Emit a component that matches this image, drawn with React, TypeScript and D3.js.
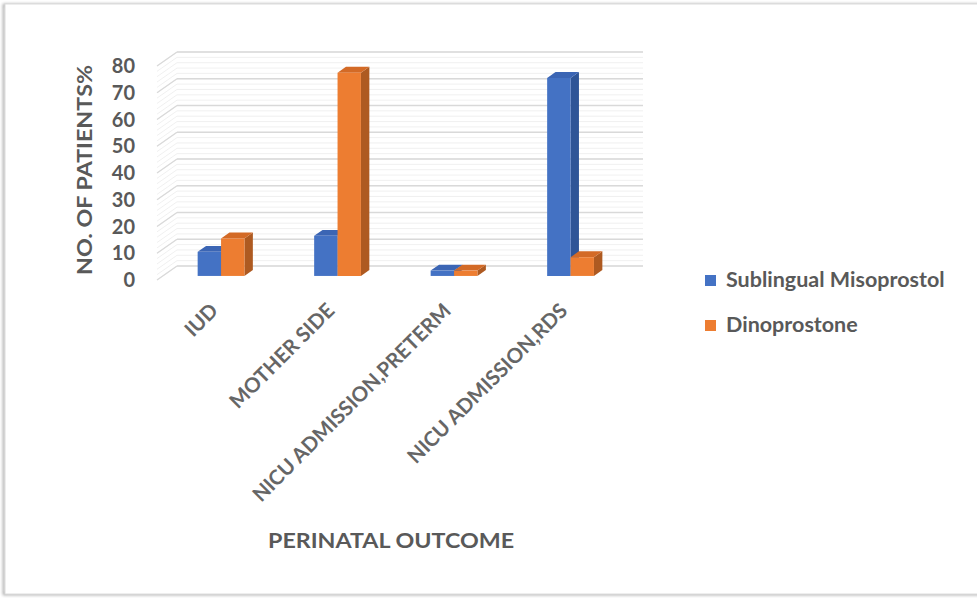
import React from "react";
import * as d3 from "d3";

const categories = ["IUD", "MOTHER SIDE", "NICU ADMISSION,PRETERM", "NICU ADMISSION,RDS"];
const seriesNames = ["Sublingual Misoprostol", "Dinoprostone"];
const misoprostol = [9, 15, 2, 74];
const dinoprostone = [14, 76, 2, 7];
const yTicks = [0, 10, 20, 30, 40, 50, 60, 70, 80];
const yTitle = "NO. OF PATIENTS%";
const xTitle = "PERINATAL OUTCOME";

const W = 977;
const H = 598;
const FONT = "Lato, 'Open Sans', sans-serif";
const TEXT = "#595959";

// oblique 3D projection: full depth shifts points right and up
const DEPTH_DX = 20;
const DEPTH_DY = -14;
const BAR_Z0 = 0.29;
const BAR_Z1 = 0.71;
const BAR_W = 23.4;

const colors = [
  { front: "#4472C4", top: "#3B65B4", side: "#2F5597" },
  { front: "#ED7D31", top: "#D36A26", side: "#AE5A21" },
];

export default function App() {
  const x = d3.scaleBand<string>().domain(categories).range([157, 623]).paddingInner(0).paddingOuter(0);
  const y = d3.scaleLinear().domain([0, 80]).range([280, 66]);
  const minor = d3.range(0, 81, 2);
  const series = [misoprostol, dinoprostone];

  const proj = (px: number, py: number, z: number): [number, number] => [px + DEPTH_DX * z, py + DEPTH_DY * z];
  const poly = (pts: [number, number][]) => pts.map((p) => p.join(",")).join(" ");

  const backX0 = 157 + DEPTH_DX;
  const backX1 = 623 + DEPTH_DX;

  const bars: React.ReactNode[] = [];
  categories.forEach((c, ci) => {
    const bw = x.bandwidth();
    const clusterStart = (x(c) as number) + (bw - 2 * BAR_W) / 2;
    series.forEach((vals, si) => {
      const v = vals[ci];
      const x0 = clusterStart + si * BAR_W;
      const x1 = x0 + BAR_W;
      const yt = y(v);
      const yb = y(0);
      const fTL = proj(x0, yt, BAR_Z0);
      const fTR = proj(x1, yt, BAR_Z0);
      const fBR = proj(x1, yb, BAR_Z0);
      const fBL = proj(x0, yb, BAR_Z0);
      const bTL = proj(x0, yt, BAR_Z1);
      const bTR = proj(x1, yt, BAR_Z1);
      const bBR = proj(x1, yb, BAR_Z1);
      const col = colors[si];
      bars.push(
        <g key={`${ci}-${si}`}>
          <polygon points={poly([fTR, bTR, bBR, fBR])} fill={col.side} />
          <polygon points={poly([fTL, bTL, bTR, fTR])} fill={col.top} />
          <polygon points={poly([fTL, fTR, fBR, fBL])} fill={col.front} />
        </g>
      );
    });
  });

  return (
    <svg width={W} height={H} style={{ position: "absolute", left: 0, top: 0, background: "#fff" }} fontFamily={FONT}>
      <defs>
        <filter id="frameShadow" x="-5%" y="-5%" width="110%" height="110%">
          <feGaussianBlur stdDeviation="1.5" />
        </filter>
      </defs>
      {/* frame */}
      <rect x={4} y={5} width={W + 10} height={H - 9} fill="none" stroke="#a8a8a8" strokeWidth={2.5} filter="url(#frameShadow)" />
      <rect x={5} y={4} width={W + 10} height={H - 8} fill="#fff" stroke="#dcdcdc" strokeWidth={1} />

      {/* minor gridlines */}
      {minor.map((v) => {
        const [sx0, sy0] = proj(157, y(v), 0);
        const [sx1, sy1] = proj(157, y(v), 1);
        return (
          <g key={`m${v}`} stroke="#ececec" strokeWidth={0.8}>
            <line x1={sx0} y1={sy0} x2={sx1} y2={sy1} />
            <line x1={backX0} y1={sy1} x2={backX1} y2={sy1} />
          </g>
        );
      })}
      {/* major gridlines on side and back walls */}
      {yTicks.map((v) => {
        const [sx0, sy0] = proj(157, y(v), 0);
        const [sx1, sy1] = proj(157, y(v), 1);
        return (
          <g key={`g${v}`} stroke="#d9d9d9" strokeWidth={1.3}>
            <line x1={sx0} y1={sy0} x2={sx1} y2={sy1} />
            <line x1={backX0} y1={sy1} x2={backX1} y2={sy1} />
          </g>
        );
      })}

      {bars}

      {/* y tick labels */}
      {yTicks.map((v) => (
        <text key={`t${v}`} x={135} y={y(v) + 2} textAnchor="end" dominantBaseline="middle" fontSize={20} fontWeight={700} fill={TEXT}>
          {v}
        </text>
      ))}
      <text
        transform={`translate(92,170) rotate(-90)`}
        textAnchor="middle"
        fontSize={20}
        fontWeight={700}
        fill={TEXT}
        textLength={210}
        lengthAdjust="spacingAndGlyphs"
      >
        {yTitle}
      </text>

      {/* category labels */}
      {categories.map((c) => {
        const cx = (x(c) as number) + x.bandwidth() / 2 + 4;
        return (
          <text
            key={`c${c}`}
            transform={`translate(${cx},${312}) rotate(-45)`}
            textAnchor="end"
            fontSize={20.5}
            fontWeight={700}
            fill="#666"
          >
            {c}
          </text>
        );
      })}

      <text x={391} y={548} textAnchor="middle" fontSize={20} fontWeight={700} fill={TEXT} textLength={246} lengthAdjust="spacingAndGlyphs">
        {xTitle}
      </text>

      {/* legend */}
      {seriesNames.map((s, i) => (
        <g key={s} transform={`translate(705,${275 + i * 45})`}>
          <rect x={0} y={0} width={11} height={11} fill={colors[i].front} />
          <text x={21} y={6} dominantBaseline="middle" fontSize={21.5} fontWeight={700} fill={TEXT}>
            {s}
          </text>
        </g>
      ))}
    </svg>
  );
}
